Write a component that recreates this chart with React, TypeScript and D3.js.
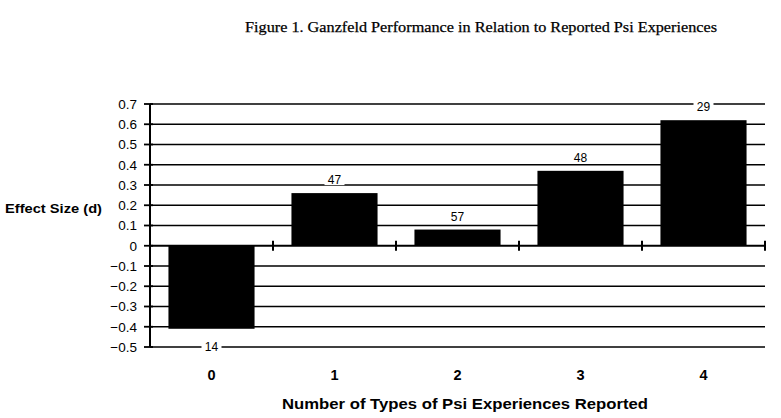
import * as d3 from 'd3';

// Ganzfeld effect size by number of reported psi experience types.
const categories = ['0', '1', '2', '3', '4'];
const effectSizes = [-0.41, 0.26, 0.08, 0.37, 0.62];
const sampleSizes = [14, 47, 57, 48, 29];
const yTicks = [0.7, 0.6, 0.5, 0.4, 0.3, 0.2, 0.1, 0, -0.1, -0.2, -0.3, -0.4, -0.5];

const W = 781;
const H = 418;
const M = { top: 104, right: 16, bottom: 71, left: 150 };
const SANS = 'Arial, "Liberation Sans", Helvetica, sans-serif';

export default function App() {
  const x = d3.scaleBand<string>()
    .domain(categories)
    .range([M.left, W - M.right])
    .paddingInner(0.3)
    .paddingOuter(0.15);

  const y = d3.scaleLinear()
    .domain([-0.5, 0.7])
    .range([H - M.bottom, M.top]);

  const zeroY = y(0);
  const step = x.step();
  const boundaries = d3.range(categories.length + 1).map((i) => M.left + i * step);

  return (
    <svg width={W} height={H} style={{ position: 'absolute', left: 0, top: 0, background: '#fff' }}>
      <text
        x={481} y={32}
        textAnchor="middle"
        fontFamily='"Liberation Serif", "Times New Roman", serif'
        fontSize={15}
        textLength={472}
        lengthAdjust="spacingAndGlyphs"
        stroke="#000"
        strokeWidth={0.25}
      >
        Figure 1. Ganzfeld Performance in Relation to Reported Psi Experiences
      </text>

      {/* gridlines */}
      {yTicks.filter((t) => t !== 0).map((t) => (
        <line key={t} x1={M.left} x2={W - M.right} y1={y(t)} y2={y(t)} stroke="#000" strokeWidth={1.3} />
      ))}

      {/* y axis */}
      <line x1={M.left} x2={M.left} y1={y(0.7)} y2={y(-0.5)} stroke="#000" strokeWidth={2} />
      {yTicks.map((t) => (
        <g key={t}>
          <line x1={M.left - 6} x2={M.left + 3} y1={y(t)} y2={y(t)} stroke="#000" strokeWidth={1.8} />
          <text x={137} y={y(t)} dy="0.36em" textAnchor="end" fontFamily={SANS} fontSize={13.5}>
            {t === 0 ? '0' : d3.format('.1f')(t)}
          </text>
        </g>
      ))}

      {/* bars */}
      {categories.map((c, i) => {
        const v = effectSizes[i];
        return (
          <rect
            key={c}
            x={x(c)}
            y={Math.min(y(v), zeroY)}
            width={x.bandwidth()}
            height={Math.abs(y(v) - zeroY)}
            fill="#000"
          />
        );
      })}

      {/* zero axis with category boundary ticks */}
      <line x1={M.left} x2={W - M.right} y1={zeroY} y2={zeroY} stroke="#000" strokeWidth={2} />
      {boundaries.slice(1).map((bx) => (
        <line key={bx} x1={bx} x2={bx} y1={zeroY - 5} y2={zeroY + 5} stroke="#000" strokeWidth={2} />
      ))}

      {/* sample size labels */}
      {categories.map((c, i) => {
        const v = effectSizes[i];
        const cx = (x(c) ?? 0) + x.bandwidth() / 2;
        const ly = v >= 0 ? y(v) - 13 : y(v) + 18;
        return (
          <g key={c}>
            <rect x={cx - 10} y={ly - 6} width={20} height={11} fill="#fff" />
            <text x={cx} y={ly} dy="0.35em" textAnchor="middle" fontFamily={SANS} fontSize={12}>
              {sampleSizes[i]}
            </text>
          </g>
        );
      })}

      {/* category labels */}
      {categories.map((c) => (
        <text
          key={c}
          x={(x(c) ?? 0) + x.bandwidth() / 2}
          y={380}
          textAnchor="middle"
          fontFamily={SANS}
          fontWeight="bold"
          fontSize={14.5}
        >
          {c}
        </text>
      ))}

      <text
        x={465} y={409}
        textAnchor="middle"
        fontFamily={SANS}
        fontWeight="bold"
        fontSize={15}
        textLength={366}
        lengthAdjust="spacingAndGlyphs"
      >
        Number of Types of Psi Experiences Reported
      </text>

      <text
        x={5} y={213}
        fontFamily={SANS}
        fontWeight="bold"
        fontSize={13}
        textLength={97}
        lengthAdjust="spacingAndGlyphs"
      >
        Effect Size (d)
      </text>
    </svg>
  );
}
